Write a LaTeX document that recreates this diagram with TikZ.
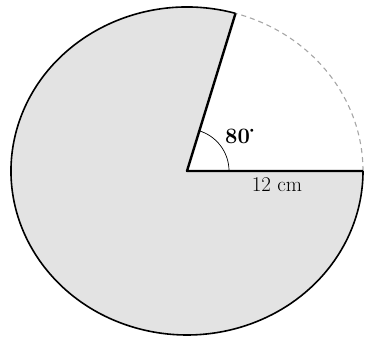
\documentclass[tikz,border=0pt]{standalone}
\usetikzlibrary{calc}
\begin{document}
\begin{tikzpicture}[x=1pt,y=1pt,
  outline/.style={line width=1.6pt,black},
  spoke/.style={line width=2.4pt,black},
  dasharc/.style={line width=1.1pt,gray!70,dash pattern=on 5pt off 4pt},
  anglemark/.style={line width=0.7pt,black}]
\useasboundingbox (0,0) rectangle (366,340);
\coordinate (O) at (187,169);
\coordinate (R) at ($(O)+(0:176 and 164)$);
\coordinate (T) at ($(O)+(74:176 and 164)$);
\coordinate (M) at ($(O)+(42,0)$);
\fill[gray!22] (O) -- (T) arc[start angle=74,end angle=360,x radius=176,y radius=164] -- cycle;
\draw[dasharc] (R) arc[start angle=0,end angle=74,x radius=176,y radius=164];
\draw[outline] (T) arc[start angle=74,end angle=360,x radius=176,y radius=164];
\draw[anglemark] (M) arc[start angle=0,end angle=74,radius=42];
\draw[spoke,line join=round] (T) -- (O) -- (R);
\node[font=\bfseries\fontsize{22}{22}\selectfont,inner sep=0pt,anchor=west] (a) at (225,204) {80\raisebox{0.5em}{\scriptsize$\bullet$}};
\node[font=\fontsize{21}{21}\selectfont,inner sep=0pt] (l) at (277,155) {12 cm};
\end{tikzpicture}
\end{document}
